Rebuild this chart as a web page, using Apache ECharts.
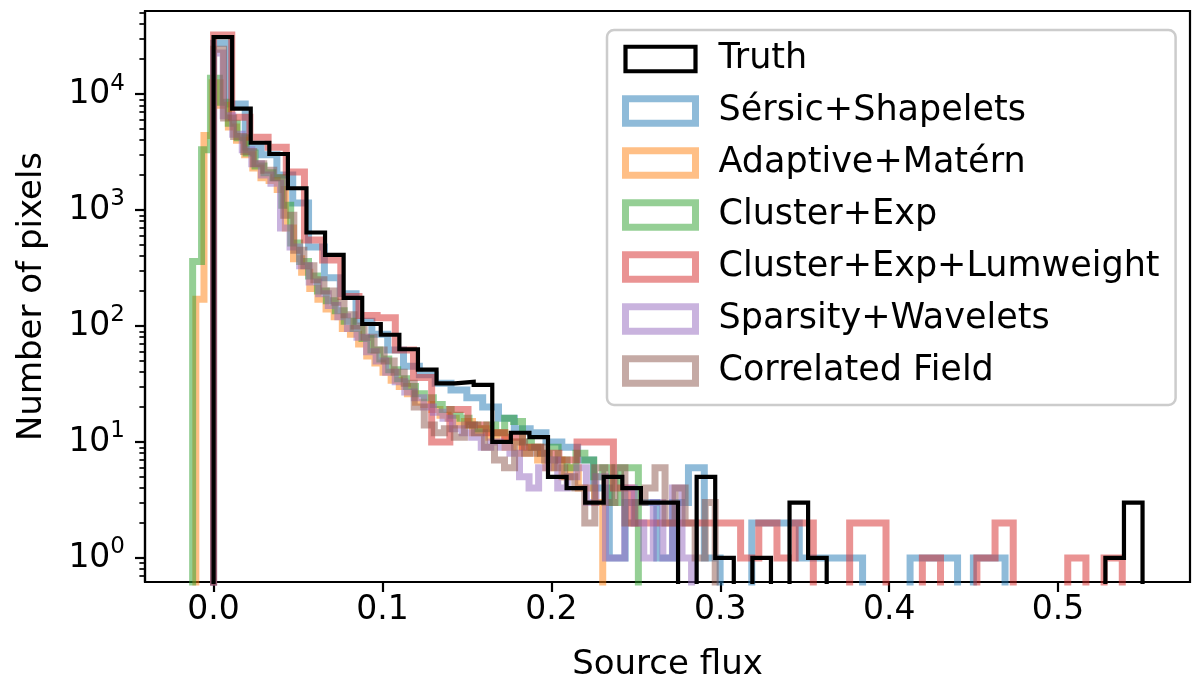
<!DOCTYPE html>
<html>
<head>
<meta charset="utf-8">
<script src="https://cdn.jsdelivr.net/npm/echarts@6.0.0/dist/echarts.min.js"></script>
<style>
html,body{margin:0;padding:0;background:#fff;}
#chart{width:1200px;height:691px;}
</style>
</head>
<body>
<div id="chart"></div>
<script>
// ---------------- data ----------------
const seriesNames = ['Truth', 'Sérsic+Shapelets', 'Adaptive+Matérn', 'Cluster+Exp',
  'Cluster+Exp+Lumweight', 'Sparsity+Wavelets', 'Correlated Field'];

// histogram ranges [first edge, last edge]; every histogram has 50 equal bins
const truthRange = [0, 0.55];
const sersicRange = [0, 0.4686];
const adaptiveRange = [-0.0105, 0.2304];
const clusterRange = [-0.0124, 0.2515];
const lumweightRange = [0, 0.538];
const sparsityRange = [0, 0.283];
const correlatedRange = [0, 0.297];

const truthCounts = [31000, 7500, 3800, 3040, 1540, 640, 410, 175, 104, 84,
  63, 42, 32, 33, 31, 10, 12, 11, 5, 4,
  3, 5, 4, 3, 3, 0, 5, 1, 0, 1,
  0, 3, 1, 0, 0, 0, 0, 0, 0, 0,
  0, 0, 0, 0, 0, 0, 0, 0, 1, 3];
const sersicCounts = [27400, 8200, 3500, 3000, 2000, 1150, 480, 260, 190, 110,
  85, 62, 45, 38, 32, 28, 24, 20, 16, 13,
  12, 10, 9, 7, 4, 1, 3, 3, 1, 3,
  6, 1, 0, 0, 2, 2, 2, 1, 1, 1,
  1, 0, 0, 0, 1, 1, 1, 0, 1, 1];
const adaptiveCounts = [170, 4400, 12500, 8000, 5200, 4000, 3000, 2300, 1900, 1800,
  1500, 700, 380, 290, 210, 170, 140, 120, 95, 85,
  70, 55, 48, 40, 34, 30, 26, 22, 21, 19,
  17, 16, 14, 15, 12, 13, 11, 12, 9, 10,
  8, 9, 7, 6, 7, 5, 6, 4, 4, 3];
const clusterCounts = [360, 3300, 13700, 8500, 5600, 4200, 3100, 2400, 2100, 1900,
  1100, 520, 360, 270, 200, 165, 135, 110, 95, 78,
  62, 52, 42, 35, 30, 26, 24, 21, 19, 17,
  16, 14, 13, 14, 12, 16, 15, 10, 9, 8,
  9, 7, 6, 8, 7, 5, 6, 3, 6, 6];
const lumweightCounts = [32300, 6300, 4250, 3480, 2130, 550, 370, 180, 123, 118,
  62, 36, 10, 19, 14, 12, 11, 9, 8, 7,
  10, 10, 4, 2, 2, 2, 2, 2, 2, 1,
  2, 1, 2, 0, 0, 2, 2, 0, 0, 1,
  0, 0, 1, 2, 0, 0, 0, 1, 0, 1];
const sparsityCounts = [22600, 6500, 4500, 3300, 2500, 2000, 1700, 700, 480, 330,
  240, 190, 150, 120, 95, 80, 60, 50, 40, 33,
  27, 24, 20, 18, 16, 13, 12, 11, 9, 10,
  9, 8, 5, 4, 6, 7, 4, 5, 6, 3,
  5, 1, 1, 4, 2, 1, 3, 1, 4, 1];
const correlatedCounts = [24300, 6200, 4300, 3200, 2500, 2200, 1900, 900, 450, 330,
  250, 200, 160, 125, 100, 80, 62, 50, 40, 32,
  20, 14, 12, 13, 11, 14, 12, 9, 7, 6,
  10, 8, 9, 7, 6, 5, 4, 2, 6, 3,
  6, 2, 3, 4, 6, 2, 4, 2, 1, 3];

const xTicks = [0, 0.1, 0.2, 0.3, 0.4, 0.5];
const yMajorTicks = [1, 10, 100, 1000, 10000];

// ---------------- styling ----------------
const X_MIN = -0.0406, X_MAX = 0.5781;
const Y_MIN = 0.62, Y_MAX = 52000;
const FLOOR = 0.01; // stands in for empty bins (below the axis, clipped)
const FONT = 'DejaVu Sans';
const colors = ['#000000', 'rgba(31,119,180,0.5)', 'rgba(255,127,14,0.5)', 'rgba(44,160,44,0.5)',
  'rgba(214,39,40,0.5)', 'rgba(148,103,189,0.5)', 'rgba(140,86,75,0.5)'];
const widths = [4.2, 7, 7, 7, 7, 7, 7];

const ranges = [truthRange, sersicRange, adaptiveRange, clusterRange, lumweightRange, sparsityRange, correlatedRange];
const counts = [truthCounts, sersicCounts, adaptiveCounts, clusterCounts, lumweightCounts, sparsityCounts, correlatedCounts];

const yMinorTicks = [];
[0.1, 1, 10, 100, 1000, 10000].forEach(d => {
  for (let m = 2; m <= 9; m++) {
    const v = +(d * m).toPrecision(3);
    if (v > Y_MIN && v < Y_MAX) yMinorTicks.push(v);
  }
});

// outline of a step histogram built from its bins
function stepOutline(range, c) {
  const n = c.length, w = (range[1] - range[0]) / n;
  const pts = [[range[0], FLOOR]];
  for (let i = 0; i < n; i++) {
    const v = c[i] > 0 ? c[i] : FLOOR;
    pts.push([range[0] + i * w, v], [range[0] + (i + 1) * w, v]);
  }
  pts.push([range[1], FLOOR]);
  return pts;
}

const drawOrder = [1, 2, 3, 4, 5, 6, 0];
const series = drawOrder.map((k, idx) => ({
  name: seriesNames[k],
  type: 'line',
  xAxisIndex: 0,
  yAxisIndex: 0,
  data: stepOutline(ranges[k], counts[k]),
  symbol: 'none',
  showSymbol: false,
  clip: true,
  silent: true,
  z: 2 + idx,
  lineStyle: { color: colors[k], width: widths[k], join: 'miter', cap: 'butt' },
  itemStyle: { color: colors[k] },
  emphasis: { disabled: true }
}));

const legendData = seriesNames.map((nm, k) => ({
  name: nm,
  icon: 'rect',
  itemStyle: { color: '#ffffff', borderColor: colors[k], borderWidth: k === 0 ? 4.2 : 7 }
}));

const chart = echarts.init(document.getElementById('chart'), null, { renderer: 'canvas' });
chart.setOption({
  animation: false,
  backgroundColor: '#ffffff',
  textStyle: { fontFamily: FONT },
  grid: { left: 145, right: 10, top: 11, bottom: 109, show: true, borderColor: '#000', borderWidth: 2.2, backgroundColor: 'transparent' },
  legend: {
    orient: 'vertical',
    left: 607, top: 30,
    itemWidth: 70, itemHeight: 24.5, itemGap: 16,
    symbolKeepAspect: false,
    padding: [11, 16, 16, 15],
    backgroundColor: 'rgba(255,255,255,0.8)',
    borderColor: '#cccccc', borderWidth: 2.5, borderRadius: 7,
    selectedMode: false,
    textStyle: { fontSize: 35, fontFamily: FONT, color: '#000', lineHeight: 36, padding: [0, 0, 0, 18] },
    data: legendData,
    z: 10
  },
  xAxis: {
    type: 'value', min: X_MIN, max: X_MAX,
    axisLine: { show: true, onZero: false, lineStyle: { color: '#000', width: 2.2 } },
    axisTick: { show: true, length: 10, lineStyle: { color: '#000', width: 2.2 }, customValues: xTicks },
    axisLabel: { customValues: xTicks, formatter: v => v.toFixed(1), fontSize: 33, fontFamily: FONT, color: '#000', margin: 12 },
    splitLine: { show: false },
    name: 'Source flux', nameLocation: 'middle', nameGap: 66,
    nameTextStyle: { fontSize: 34, fontFamily: FONT, color: '#000' }
  },
  yAxis: [{
    type: 'log', logBase: 10, min: Y_MIN, max: Y_MAX, position: 'left',
    axisLine: { show: true, onZero: false, lineStyle: { color: '#000', width: 2.2 } },
    axisTick: { show: true, length: 10, lineStyle: { color: '#000', width: 2.2 }, customValues: yMajorTicks },
    axisLabel: {
      customValues: yMajorTicks,
      formatter: v => '{b|10}{s|' + Math.round(Math.log10(v)) + '}',
      margin: 20, color: '#000',
      rich: {
        b: { fontSize: 33, fontFamily: FONT, color: '#000', lineHeight: 44 },
        s: { fontSize: 23, fontFamily: FONT, color: '#000', lineHeight: 23, verticalAlign: 'top' }
      }
    },
    splitLine: { show: false },
    minorTick: { show: false },
    name: 'Number of pixels', nameLocation: 'middle', nameGap: 96,
    nameTextStyle: { fontSize: 34, fontFamily: FONT, color: '#000' }
  }, {
    type: 'log', logBase: 10, min: Y_MIN, max: Y_MAX, position: 'left',
    axisLine: { show: false, onZero: false },
    axisTick: { show: true, length: 5.6, lineStyle: { color: '#000', width: 1.7 }, customValues: yMinorTicks },
    axisLabel: { show: false },
    splitLine: { show: false }
  }],
  series: series
});
</script>
</body>
</html>
